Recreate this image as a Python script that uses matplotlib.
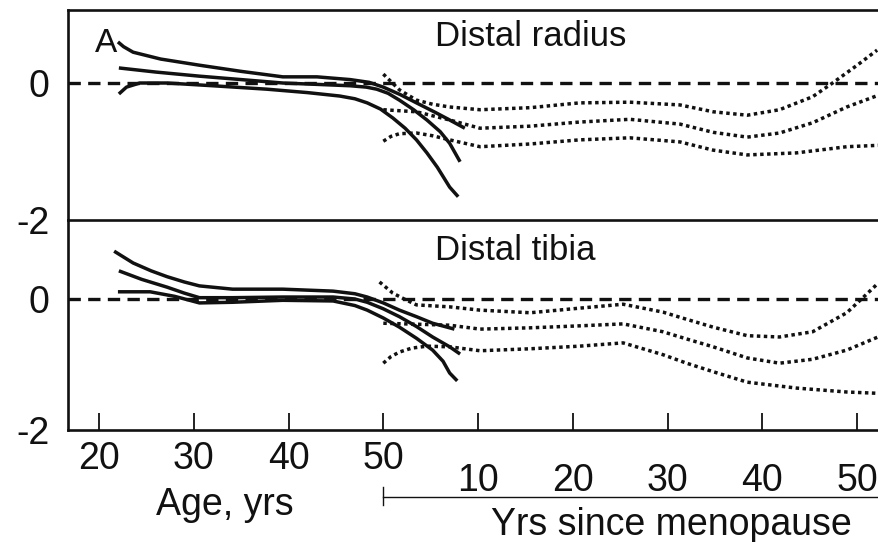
import numpy as np
import matplotlib
matplotlib.use('Agg')
import matplotlib.pyplot as plt
import matplotlib.transforms as mtransforms

plt.rcParams['font.family'] = ['Liberation Sans', 'DejaVu Sans']

# ---- Distal radius: fit vs age (solid), upper / mid / lower
rad_age_hi = [22.0, 22.6, 23.6, 26.5, 30.6, 35.0, 39.4, 43.0, 46.5, 48.5, 50.0, 51.8, 53.5, 55.5, 57.0, 58.6]
rad_hi = [0.60, 0.53, 0.45, 0.35, 0.26, 0.17, 0.09, 0.09, 0.05, 0.01, -0.06, -0.17, -0.29, -0.43, -0.54, -0.66]
rad_age_mid = [22.1, 26.0, 30.6, 35.0, 39.4, 43.0, 46.5, 48.2, 49.3, 50.5, 51.7, 53.2, 54.6, 56.0, 57.0, 58.1]
rad_mid = [0.22, 0.16, 0.10, 0.05, 0.0, -0.02, -0.04, -0.06, -0.09, -0.15, -0.25, -0.39, -0.54, -0.71, -0.88, -1.15]
rad_age_lo = [22.1, 22.9, 24.3, 27.2, 32.0, 37.7, 42.0, 45.4, 47.0, 48.3, 49.7, 51.0, 52.3, 53.5, 54.6, 55.7, 57.0, 57.9]
rad_lo = [-0.16, -0.06, 0.0, 0.0, -0.04, -0.09, -0.14, -0.19, -0.23, -0.29, -0.38, -0.51, -0.66, -0.83, -1.02, -1.23, -1.52, -1.66]

# ---- Distal radius: fit vs yrs since menopause (dotted)
rad_ysm_hi = [0.0, 1.7, 3.5, 5.2, 7.0, 10.2, 15.5, 20.7, 26.0, 31.3, 34.8, 38.4, 41.8, 45.3, 47.4, 50.0, 52.1]
rad_post_hi = [0.13, -0.10, -0.25, -0.31, -0.35, -0.39, -0.36, -0.29, -0.28, -0.32, -0.42, -0.47, -0.39, -0.20, 0.0, 0.26, 0.48]
rad_ysm_mid = [0.0, 3.5, 7.0, 10.2, 15.5, 20.7, 26.0, 31.3, 34.8, 38.4, 41.8, 45.3, 48.9, 52.2]
rad_post_mid = [-0.39, -0.42, -0.54, -0.66, -0.63, -0.57, -0.53, -0.60, -0.72, -0.79, -0.73, -0.58, -0.35, -0.18]
rad_ysm_lo = [0.0, 0.8, 1.7, 3.5, 5.2, 7.0, 10.2, 15.5, 20.7, 26.0, 31.3, 34.8, 38.4, 43.6, 48.9, 52.2]
rad_post_lo = [-0.85, -0.78, -0.74, -0.73, -0.77, -0.83, -0.93, -0.89, -0.83, -0.80, -0.86, -0.98, -1.05, -1.02, -0.93, -0.91]

# ---- Distal tibia: fit vs age (solid)
tib_age_hi = [21.6, 23.6, 25.5, 27.2, 29.0, 30.6, 34.1, 39.4, 44.7, 47.0, 48.3, 50.0, 51.7, 53.5, 55.2, 57.5]
tib_hi = [0.73, 0.55, 0.43, 0.34, 0.26, 0.20, 0.15, 0.15, 0.12, 0.08, 0.03, -0.06, -0.17, -0.27, -0.37, -0.46]
tib_age_mid = [22.1, 24.5, 27.2, 29.0, 30.6, 34.1, 39.4, 44.7, 47.0, 48.3, 50.0, 51.7, 53.5, 55.2, 57.0, 58.1]
tib_mid = [0.43, 0.30, 0.18, 0.09, 0.02, 0.02, 0.03, 0.03, 0.0, -0.05, -0.15, -0.27, -0.42, -0.58, -0.73, -0.84]
tib_age_lo = [22.0, 25.4, 28.0, 30.6, 34.1, 39.4, 44.7, 47.0, 48.3, 50.0, 51.7, 53.5, 55.2, 56.3, 57.0, 57.8]
tib_lo = [0.11, 0.11, 0.04, -0.06, -0.05, -0.02, -0.03, -0.10, -0.17, -0.29, -0.43, -0.60, -0.78, -0.95, -1.13, -1.25]

# ---- Distal tibia: fit vs yrs since menopause (dotted)
tib_ysm_hi = [-0.4, 1.0, 2.2, 3.5, 7.0, 10.2, 15.5, 20.7, 25.3, 29.5, 32.0, 34.8, 38.4, 41.8, 45.3, 48.9, 50.6, 52.2]
tib_post_hi = [0.26, 0.09, 0.0, -0.09, -0.12, -0.17, -0.21, -0.14, -0.08, -0.20, -0.31, -0.43, -0.56, -0.58, -0.50, -0.21, 0.02, 0.24]
tib_ysm_mid = [0.0, 7.0, 10.2, 15.5, 20.7, 25.3, 29.5, 32.0, 34.8, 38.4, 41.8, 45.3, 48.9, 52.2]
tib_post_mid = [-0.37, -0.40, -0.46, -0.44, -0.41, -0.38, -0.50, -0.61, -0.73, -0.90, -0.98, -0.92, -0.78, -0.58]
tib_ysm_lo = [0.0, 0.8, 1.7, 3.0, 4.6, 7.0, 10.2, 15.5, 20.7, 25.3, 29.5, 32.0, 34.8, 38.4, 43.6, 48.9, 52.2]
tib_post_lo = [-0.98, -0.88, -0.81, -0.75, -0.72, -0.73, -0.79, -0.76, -0.72, -0.67, -0.85, -0.98, -1.11, -1.27, -1.36, -1.42, -1.44]

menopause_age = 50
age_ticks = [20, 30, 40, 50, 60, 70, 80, 90, 100]
age_labels = ['20', '30', '40', '50', '', '', '', '', '']
ysm_ticks = [10, 20, 30, 40, 50]

W, H = 879, 542
fig = plt.figure(figsize=(W / 100, H / 100), dpi=100)
left = 67.7 / W
ax1 = fig.add_axes([left, (H - 220) / H, 1 - left, 210 / H])
ax2 = fig.add_axes([left, (H - 430) / H, 1 - left, 210 / H])

ink = '#111111'
solid_kw = dict(color=ink, lw=2.5, solid_capstyle='butt', solid_joinstyle='round')
dot_kw = dict(color=ink, lw=2.5, linestyle=(0, (1, 1.0)))

panels = [
    (ax1, (rad_age_hi, rad_hi), (rad_age_mid, rad_mid), (rad_age_lo, rad_lo),
     (rad_ysm_hi, rad_post_hi), (rad_ysm_mid, rad_post_mid), (rad_ysm_lo, rad_post_lo)),
    (ax2, (tib_age_hi, tib_hi), (tib_age_mid, tib_mid), (tib_age_lo, tib_lo),
     (tib_ysm_hi, tib_post_hi), (tib_ysm_mid, tib_post_mid), (tib_ysm_lo, tib_post_lo)),
]

for ax, s1, s2, s3, d1, d2, d3 in panels:
    ax.patch.set_visible(False)
    ax.axhline(0, color=ink, lw=2.4, dashes=(3.7, 2.2))
    for x, y in (s1, s2, s3):
        ax.plot(x, y, **solid_kw)
    for x, y in (d1, d2, d3):
        ax.plot(np.array(x) + menopause_age, y, **dot_kw)
    ax.set_xlim(16.7, 102.3)
    ax.set_yticks([0, -2])
    ax.set_yticklabels(['0', '-2'])
    ax.tick_params(axis='y', length=0, pad=13, labelsize=27, labelcolor=ink)
    ax.spines['right'].set_visible(False)
    for s in ('left', 'top', 'bottom'):
        ax.spines[s].set_linewidth(1.9)
        ax.spines[s].set_color(ink)

ax1.set_ylim(-2, 1.066)
ax2.set_ylim(-2, 1.206)
ax2.spines['top'].set_visible(False)

ax1.set_xticks([])
ax2.set_xticks(age_ticks)
ax2.set_xticklabels(age_labels)
ax2.tick_params(axis='x', direction='in', length=12, width=1.3, pad=8, labelsize=27,
                color=ink, labelcolor=ink)

sec = ax2.secondary_xaxis('bottom', functions=(lambda a: a - menopause_age, lambda y: y + menopause_age))
sec.set_xticks(ysm_ticks)
sec.tick_params(length=0, pad=24, labelsize=27, labelcolor=ink)
sec.spines['bottom'].set_visible(False)

ax1.text(0.034, 0.80, 'A', transform=ax1.transAxes, fontsize=24, ha='left', va='baseline', color=ink)
ax1.text(55.45, 0.83, 'Distal radius', fontsize=25, ha='left', va='baseline', color=ink,
         transform=mtransforms.blended_transform_factory(ax1.transData, ax1.transAxes))
ax2.text(55.45, 0.81, 'Distal tibia', fontsize=25, ha='left', va='baseline', color=ink,
         transform=mtransforms.blended_transform_factory(ax2.transData, ax2.transAxes))

# bracket marking the years-since-menopause scale
tr = mtransforms.blended_transform_factory(ax2.transData, ax2.transAxes)
ax2.plot([menopause_age, 102.3], [-0.319, -0.319], color=ink, lw=1.0, transform=tr, clip_on=False)
ax2.plot([menopause_age, menopause_age], [-0.272, -0.358], color=ink, lw=1.0, transform=tr, clip_on=False)

fig.text(225 / W, (H - 515) / H, 'Age, yrs', fontsize=27, ha='center', va='baseline', color=ink)
fig.text(671 / W, (H - 535) / H, 'Yrs since menopause', fontsize=27, ha='center', va='baseline', color=ink)

fig.savefig('out.png', dpi=100)
